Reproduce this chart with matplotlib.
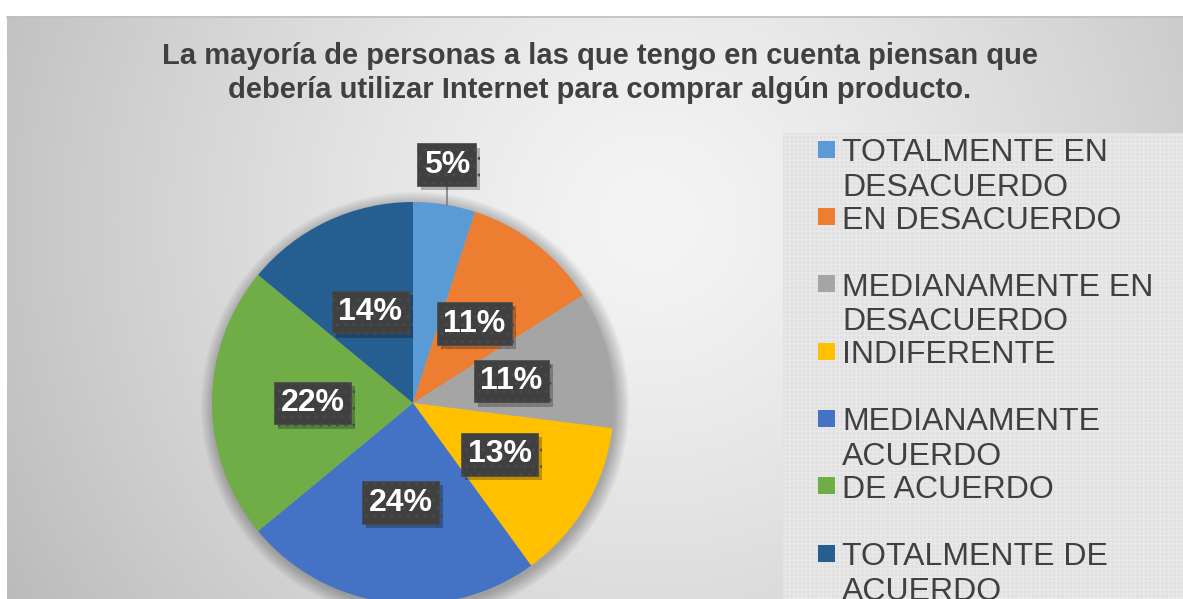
import matplotlib.pyplot as plt
import matplotlib.patheffects as pe
from matplotlib.patches import Rectangle, Circle
import numpy as np

plt.rcParams['font.family'] = ['Liberation Sans', 'DejaVu Sans']

# Data
categories = ['TOTALMENTE EN\nDESACUERDO', 'EN DESACUERDO', 'MEDIANAMENTE EN\nDESACUERDO',
              'INDIFERENTE', 'MEDIANAMENTE\nACUERDO', 'DE ACUERDO', 'TOTALMENTE DE\nACUERDO']
values = [5, 11, 11, 13, 24, 22, 14]
colors = ['#5b9bd5', '#ed7d31', '#a5a5a5', '#ffc000', '#4472c4', '#70ad47', '#255e91']
title = ('La mayoría de personas a las que tengo en cuenta piensan que\n'
         'debería utilizar Internet para comprar algún producto.')

W, H = 1183, 599
fig = plt.figure(figsize=(W / 100, H / 100), dpi=100)

# background with radial gradient
bg = fig.add_axes([0, 0, 1, 1], zorder=0)
yy, xx = np.mgrid[0:H, 0:W]
d = np.sqrt((xx - 650) ** 2 + (yy - 220) ** 2) / 650
g = 0.96 - 0.19 * np.clip(d, 0, 1.2) ** 1.3
g[(xx < 7) | (yy < 16)] = 1.0
bg.imshow(np.dstack([g, g, g]), extent=[0, W, H, 0], aspect='auto', interpolation='bilinear')
bg.plot([7, W], [16.5, 16.5], color='#c0c0c0', lw=1.2)
bg.add_patch(Rectangle((783, 133), 400, 466, facecolor='#e0e0e0', edgecolor='#e9e9e9',
                       hatch='++++', lw=0))
bg.set_xlim(0, W)
bg.set_ylim(H, 0)
bg.axis('off')

# title
fig.text(600 / W, 1 - 73 / H, title, ha='center', va='center', fontsize=21,
         fontweight='bold', color='#404040', linespacing=1.3)

# pie
R = 201
cx, cy = 413, 403
ax = fig.add_axes([(cx - R) / W, (H - cy - R) / H, 2 * R / W, 2 * R / H], zorder=2)
for k in range(12):
    ax.add_patch(Circle((0.01, -0.015), 1 + 0.006 * k, color='black', alpha=0.022, lw=0,
                        clip_on=False))
wedges, texts, autotexts = ax.pie(values, colors=colors, startangle=90, counterclock=False,
                                  autopct=lambda p: f'{p:.0f}%', pctdistance=0.5,
                                  wedgeprops=dict(lw=0, clip_on=False))
ax.set_xlim(-1, 1)
ax.set_ylim(-1, 1)

# first label sits outside with a leader line
w0 = wedges[0]
th = np.deg2rad((w0.theta1 + w0.theta2) / 2)
lx, ly = 1.2 * np.cos(th) - 0.02, 1.2 * np.sin(th)
autotexts[0].set_position((lx, ly))
ax.plot([lx, lx], [ly - 0.1, np.sqrt(1 - lx ** 2)], color='#808080', lw=1.2, zorder=1,
        clip_on=False)

for t in autotexts:
    t.set_fontsize(23)
    t.set_fontweight('bold')
    t.set_color('white')
    t.set_bbox(dict(boxstyle='square,pad=0.2', facecolor='#404040', edgecolor='#4a4a4a',
                    hatch='..', lw=0.5))
    t.get_bbox_patch().set_path_effects([
        pe.SimplePatchShadow(offset=(3, -3), shadow_rgbFace='black', alpha=0.25), pe.Normal()])
    t.set_zorder(5)

# legend
lg = fig.add_axes([783 / W, 0, 400 / W, (H - 133) / H], zorder=3)
lg.set_xlim(0, 400)
lg.set_ylim(H - 133, 0)
lg.axis('off')
for i, (lab, c) in enumerate(zip(categories, colors)):
    yc = 16.3 + 67.3 * i
    lg.add_patch(Rectangle((35, yc - 8.5), 17, 17, facecolor=c, lw=0))
    for j, line in enumerate(lab.split('\n')):
        lg.text(59, yc + 12 + 34.5 * j, line, fontsize=23, color='#404040',
                va='baseline', ha='left')

fig.savefig('out.png', dpi=100)
